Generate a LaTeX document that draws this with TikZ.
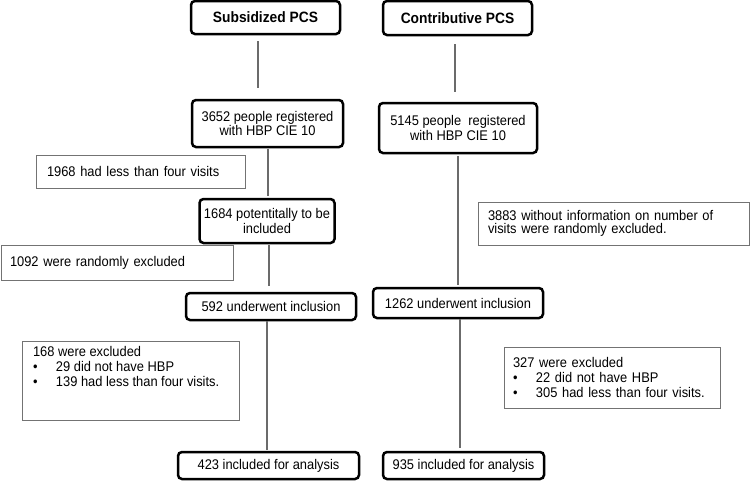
\documentclass[tikz,border=0pt]{standalone}
\usepackage{fontspec}
\setmainfont[FakeStretch=0.92]{Liberation Sans}
\tikzset{
    stage/.style={draw=black, line width=2.5pt, rounded corners=4pt, align=center,
        inner sep=2pt, font=\fontsize{14}{12.5}\selectfont},
    note/.style={draw=black!55, line width=0.8pt, align=left, inner ysep=3pt,
        font=\fontsize{14}{13}\selectfont},
    link/.style={draw=black!58, line width=2pt}
}
\newcommand{\bul}{\makebox[23pt][l]{\textbullet}}
\begin{document}
\begin{tikzpicture}[x=1pt,y=-1pt]
    \useasboundingbox (0,0) rectangle (750,480);
    %% left column
    \node[stage, minimum width=149pt, minimum height=33pt, font=\fontsize{15}{13}\bfseries]
        (sub) at (265.5,17.5) {Subsidized PCS};
    \node[stage, minimum width=151pt, minimum height=47pt] (reg3652) at (267.5,123.5)
        {3652 people registered\\with HBP CIE 10};
    \node[stage, minimum width=135pt, minimum height=44pt] (pot1684) at (267,221)
        {1684 potentitally to be\\included};
    \node[stage, minimum width=170pt, minimum height=27pt] (inc592) at (271,306.5)
        {592 underwent inclusion};
    \node[stage, minimum width=181pt, minimum height=27pt] (ana423) at (268.5,465.5)
        {423 included for analysis};
    %% right column
    \node[stage, minimum width=149pt, minimum height=34pt, font=\fontsize{15}{13}\bfseries]
        (con) at (457.5,18) {Contributive PCS};
    \node[stage, minimum width=158pt, minimum height=50pt] (reg5145) at (458,128)
        {5145 people \ registered\\with HBP CIE 10};
    \node[stage, minimum width=170pt, minimum height=30pt] (inc1262) at (458,303)
        {1262 underwent inclusion};
    \node[stage, minimum width=161pt, minimum height=27pt] (ana935) at (463.5,465.5)
        {935 included for analysis};
    %% exclusion notes
    \node[note, inner xsep=11pt, text width=187pt, minimum height=33pt] (less1968)
        at (140.5,171.5) {1968 had less than four visits};
    \node[note, inner xsep=9pt, text width=214pt, minimum height=35pt] (rand1092)
        at (117,262.5) {1092 were randomly excluded};
    \node[note, inner xsep=10pt, text width=251pt, minimum height=43pt] (info3883)
        at (613.5,223.5) {3883 without information on number of\\visits were randomly excluded.};
    \node[note, inner xsep=11pt, inner ysep=5pt, minimum width=217pt,
        font=\fontsize{14}{15}\selectfont] (exc168) at (130.5,380.5)
        {\parbox[c][69pt][t]{195pt}{
        168 were excluded\\
        \bul 29 did not have HBP\\
        \bul 139 had less than four visits.}};
    \node[note, inner xsep=9pt, text width=198pt, minimum height=61pt,
        font=\fontsize{14}{15}\selectfont] (exc327) at (612,377.5)
        {327 were excluded\\
        \bul 22 did not have HBP\\
        \bul 305 had less than four visits.};
    %% flow lines
    \draw[link, shorten <=6pt, shorten >=11pt] ([xshift=-7.5pt]sub.south)
        -- ([xshift=-7.5pt]sub.south |- reg3652.north);
    \draw[link, shorten <=1pt, shorten >=2pt] (reg3652.south) -- (reg3652.south |- pot1684.north);
    \draw[link, shorten <=1pt, shorten >=6pt] ([xshift=2pt]pot1684.south)
        -- ([xshift=2pt]pot1684.south |- inc592.north);
    \draw[link, shorten >=1pt] ([xshift=-4pt]inc592.south) -- ([xshift=-4pt]inc592.south |- ana423.north);
    \draw[link, shorten <=8pt, shorten >=10pt] ([xshift=-2.5pt]con.south)
        -- ([xshift=-2.5pt]con.south |- reg5145.north);
    \draw[link, shorten <=2pt, shorten >=2pt] (reg5145.south) -- (reg5145.south |- inc1262.north);
    \draw[link, shorten >=3pt] ([xshift=2pt]inc1262.south) -- ([xshift=2pt]inc1262.south |- ana935.north);
\end{tikzpicture}
\end{document}
